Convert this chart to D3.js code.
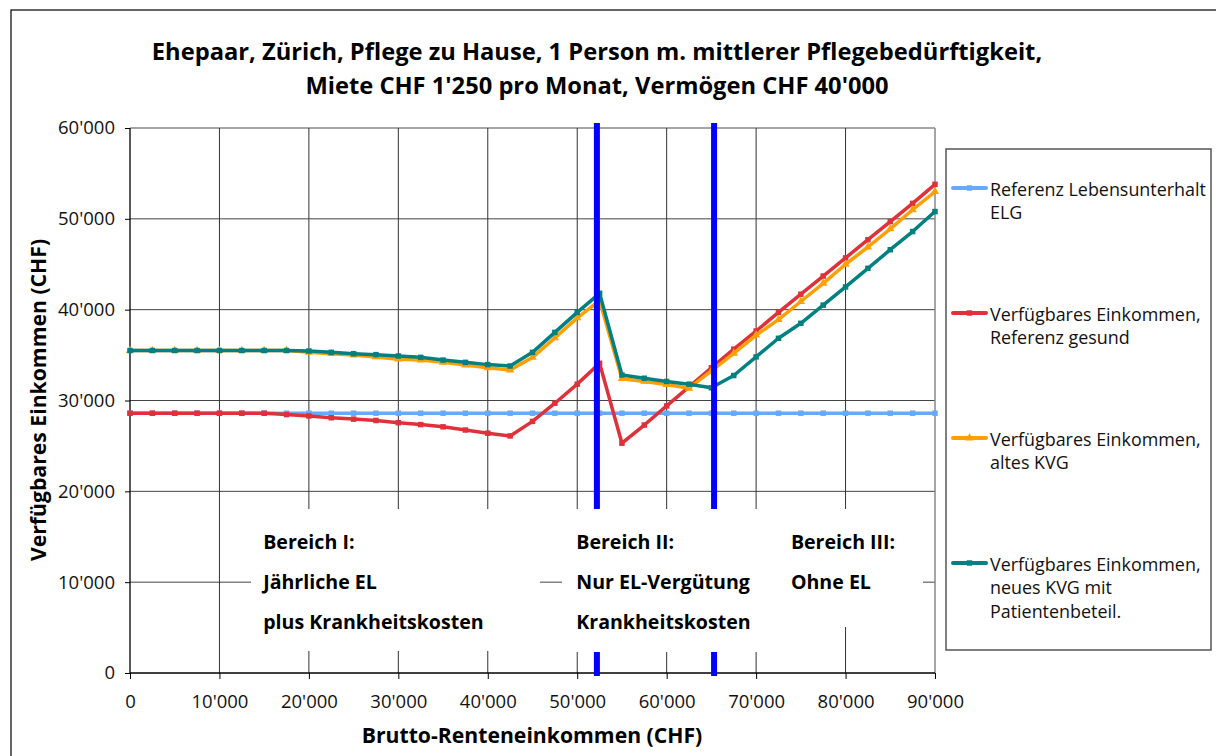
<!DOCTYPE html>
<html>
<head>
<meta charset="utf-8">
<script src="https://cdn.jsdelivr.net/npm/d3@7"></script>
<style>
  html, body { margin: 0; padding: 0; background: #fff; }
  svg { display: block; font-family: "Open Sans", "Noto Sans", sans-serif; }
</style>
</head>
<body>
<svg id="chart" width="1216" height="756"></svg>
<script>
// ---- data ----
const income = [0, 2500, 5000, 7500, 10000, 12500, 15000, 17500, 20000, 22500, 25000, 27500, 30000,
  32500, 35000, 37500, 40000, 42500, 45000, 47500, 50000, 52500, 55000, 57500, 60000, 62500, 65000,
  67500, 70000, 72500, 75000, 77500, 80000, 82500, 85000, 87500, 90000];

const refELG = [28600, 28600, 28600, 28600, 28600, 28600, 28600, 28600, 28600, 28600, 28600, 28600, 28600,
  28600, 28600, 28600, 28600, 28600, 28600, 28600, 28600, 28600, 28600, 28600, 28600, 28600, 28600,
  28600, 28600, 28600, 28600, 28600, 28600, 28600, 28600, 28600, 28600];

const refGesund = [28600, 28600, 28600, 28600, 28600, 28600, 28600, 28450, 28300, 28100, 27950, 27800, 27550,
  27350, 27100, 26750, 26400, 26100, 27700, 29700, 31800, 34100, 25300, 27300, 29400, 31500, 33600,
  35650, 37650, 39700, 41700, 43700, 45700, 47700, 49700, 51700, 53800];

const altesKVG = [35500, 35500, 35500, 35500, 35500, 35500, 35500, 35500, 35300, 35150, 35000, 34800, 34550,
  34450, 34200, 33900, 33600, 33350, 34750, 36900, 39100, 41000, 32400, 32100, 31750, 31350, 33250,
  35200, 37200, 38900, 40900, 42900, 45000, 46900, 48900, 51000, 53000];

const neuesKVG = [35500, 35500, 35500, 35500, 35500, 35500, 35500, 35500, 35450, 35300, 35150, 35050, 34900,
  34750, 34450, 34200, 33950, 33800, 35300, 37500, 39700, 41800, 32800, 32450, 32100, 31800, 31400,
  32750, 34800, 36850, 38500, 40500, 42500, 44550, 46600, 48600, 50800];

const seriesNames = [
  ["Referenz Lebensunterhalt", "ELG"],
  ["Verfügbares Einkommen,", "Referenz gesund"],
  ["Verfügbares Einkommen,", "altes KVG"],
  ["Verfügbares Einkommen,", "neues KVG mit", "Patientenbeteil."]
];
const seriesColors = ["#66AAFF", "#E0303A", "#FFA000", "#008080"];
const seriesMarkers = ["square", "square", "triangle", "square"];

const xTicks = [0, 10000, 20000, 30000, 40000, 50000, 60000, 70000, 80000, 90000];
const yTicks = [0, 10000, 20000, 30000, 40000, 50000, 60000];

const boundaries = [52200, 65300];

const titleLines = [
  "Ehepaar, Zürich, Pflege zu Hause, 1 Person m. mittlerer Pflegebedürftigkeit,",
  "Miete CHF 1'250 pro Monat, Vermögen CHF 40'000"
];
const xTitle = "Brutto-Renteneinkommen (CHF)";
const yTitle = "Verfügbares Einkommen (CHF)";

const regionLabels = [
  { at: 15000, lines: ["Bereich I:", "Jährliche EL", "plus Krankheitskosten"] },
  { at: 50000, lines: ["Bereich II:", "Nur EL-Vergütung", "Krankheitskosten"] },
  { at: 74000, lines: ["Bereich III:", "Ohne EL"] }
];

// ---- layout ----
const svg = d3.select("#chart");
const x = d3.scaleLinear().domain([0, 90000]).range([130, 935]);
const y = d3.scaleLinear().domain([0, 60000]).range([673, 128]);
const fmt = v => v === 0 ? "0" : d3.format(",")(v).replace(/,/g, "'");

// outer frame
svg.append("rect").attr("x", 11).attr("y", 10).attr("width", 1220).attr("height", 760)
  .attr("fill", "none").attr("stroke", "#000").attr("stroke-width", 1.2);

// title
svg.append("g").selectAll("text").data(titleLines).join("text")
  .attr("x", 597).attr("y", (d, i) => 60 + i * 34)
  .attr("text-anchor", "middle").attr("font-weight", "bold").attr("font-size", 23.7)
  .text(d => d);

// gridlines
svg.append("g").selectAll("line").data(yTicks.filter(v => v > 0)).join("line")
  .attr("x1", 130).attr("x2", 935).attr("y1", d => y(d)).attr("y2", d => y(d))
  .attr("stroke", d => d === 60000 ? "#888" : "#444").attr("stroke-width", d => d === 60000 ? 1.5 : 1);
svg.append("g").selectAll("line").data(xTicks.filter(v => v > 0)).join("line")
  .attr("x1", d => x(d)).attr("x2", d => x(d)).attr("y1", 128).attr("y2", 673)
  .attr("stroke", d => d === 90000 ? "#888" : "#333").attr("stroke-width", d => d === 90000 ? 1.5 : 1);

// axes
const yAxis = svg.append("g").attr("transform", "translate(130,0)")
  .call(d3.axisLeft(y).tickValues(yTicks).tickFormat(fmt).tickSize(5).tickPadding(10));
const xAxis = svg.append("g").attr("transform", "translate(0,673)")
  .call(d3.axisBottom(x).tickValues(xTicks).tickFormat(fmt).tickSize(6).tickPadding(16));
[yAxis, xAxis].forEach(a => {
  a.select(".domain").attr("stroke", "#000").attr("stroke-width", 1.3);
  a.selectAll(".tick line").attr("stroke", "#000");
  a.selectAll("text").attr("font-size", 18.5).attr("fill", "#111")
    .attr("font-family", "'Open Sans', sans-serif");
});
xAxis.select(".domain").attr("d", "M130,0H935");
yAxis.select(".domain").attr("d", "M0,673V128");

// series
const allSeries = [refELG, refGesund, altesKVG, neuesKVG];
const line = d3.line().x((d, i) => x(income[i])).y(d => y(d));
allSeries.forEach((vals, si) => {
  const g = svg.append("g");
  g.append("path").datum(vals).attr("d", line)
    .attr("fill", "none").attr("stroke", seriesColors[si]).attr("stroke-width", 3.5)
    .attr("stroke-linejoin", "round");
  const sym = d3.symbol().type(seriesMarkers[si] === "triangle" ? d3.symbolTriangle : d3.symbolSquare).size(30);
  g.selectAll("path.m").data(vals).join("path").attr("class", "m")
    .attr("transform", (d, i) => `translate(${x(income[i])},${y(d)})`)
    .attr("d", sym).attr("fill", seriesColors[si]);
});

// boundary lines
svg.append("g").selectAll("line").data(boundaries).join("line")
  .attr("x1", d => x(d)).attr("x2", d => x(d)).attr("y1", 123).attr("y2", 676)
  .attr("stroke", "#0000FF").attr("stroke-width", 6);

// region label boxes
const boxes = [
  { x0: 251, x1: 540, y0: 509, y1: 651 },
  { x0: 562, x1: 775, y0: 509, y1: 652 },
  { x0: 775, x1: 923, y0: 509, y1: 627 }
];
svg.append("g").selectAll("rect").data(boxes).join("rect")
  .attr("x", d => d.x0).attr("y", d => d.y0).attr("width", d => d.x1 - d.x0).attr("height", d => d.y1 - d.y0)
  .attr("fill", "#fff");
regionLabels.forEach(r => {
  svg.append("g").selectAll("text").data(r.lines).join("text")
    .attr("x", x(r.at) - 1).attr("y", (d, i) => 549 + i * 40)
    .attr("font-weight", "bold").attr("font-size", 19.6).attr("fill", "#000")
    .text(d => d);
});

// axis titles
svg.append("text").attr("x", 532).attr("y", 743).attr("text-anchor", "middle")
  .attr("font-weight", "bold").attr("font-size", 21.2).text(xTitle);
svg.append("text").attr("transform", "translate(46,400) rotate(-90)").attr("text-anchor", "middle")
  .attr("font-weight", "bold").attr("font-size", 21.2).text(yTitle);

// legend
svg.append("rect").attr("x", 946).attr("y", 149).attr("width", 265).attr("height", 501)
  .attr("fill", "#fff").attr("stroke", "#555").attr("stroke-width", 1.5);
const legendY = [188, 313, 438, 563];
seriesNames.forEach((lines, si) => {
  const g = svg.append("g");
  g.append("line").attr("x1", 953).attr("x2", 986).attr("y1", legendY[si]).attr("y2", legendY[si])
    .attr("stroke", seriesColors[si]).attr("stroke-width", 4).attr("stroke-linecap", "round");
  g.append("path").attr("transform", `translate(969.5,${legendY[si]})`)
    .attr("d", d3.symbol().type(seriesMarkers[si] === "triangle" ? d3.symbolTriangle : d3.symbolSquare).size(30))
    .attr("fill", seriesColors[si]);
  g.selectAll("text").data(lines).join("text")
    .attr("x", 990).attr("y", (d, i) => legendY[si] + 7.5 + i * 23.5)
    .attr("font-size", 17.9).attr("fill", "#111").text(d => d);
});
</script>
</body>
</html>
